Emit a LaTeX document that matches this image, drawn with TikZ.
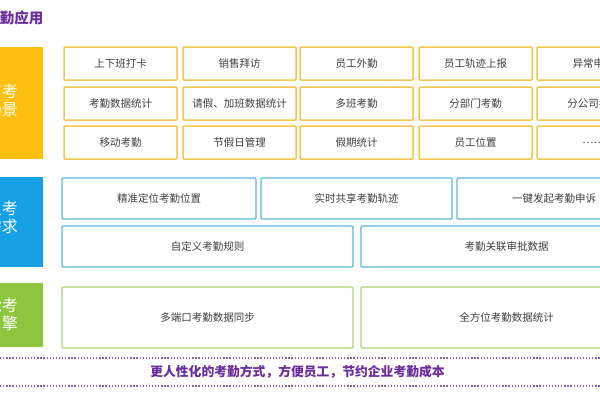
\documentclass[tikz,border=0pt]{standalone}
\usepackage{fontspec}
\setmainfont{Noto Sans CJK SC}
\definecolor{ttl}{HTML}{6A2C9E}
\definecolor{yel}{HTML}{FDBF10}
\definecolor{yelb}{HTML}{F0C850}
\definecolor{blu}{HTML}{15A0E6}
\definecolor{blub}{HTML}{5CB8DF}
\definecolor{grn}{HTML}{8CC63F}
\definecolor{grnb}{HTML}{ACD576}
\definecolor{txt}{HTML}{404040}
\definecolor{dotc}{HTML}{8A63B8}
\tikzset{
  cell/.style={rectangle, rounded corners=1pt, line width=1.3pt, fill=white, text=txt,
    font=\fontsize{10.5}{12}\selectfont, inner sep=0pt},
  ycell/.style={cell, draw=yelb, line width=1.5pt, minimum width=113pt, minimum height=33pt},
  bcell/.style={cell, draw=blub, line width=1.1pt, minimum height=41pt},
  gcell/.style={cell, draw=grnb, line width=1.1pt, minimum height=61pt},
  lab/.style={text=white, font=\fontsize{16}{18}\selectfont, align=right, anchor=east, inner sep=0pt},
  dotline/.style={draw=dotc, line width=1.3pt, dash pattern=on 1.3pt off 1.8pt}
}
\begin{document}
\begin{tikzpicture}[x=1pt,y=-1pt]
\useasboundingbox (0,0) rectangle (600,400);
\clip (0,0) rectangle (600,400);
\fill[white] (0,0) rectangle (600,400);
% title
\node[anchor=east, text=ttl, font=\fontsize{14.5}{16}\selectfont\bfseries, inner sep=0pt] (title) at (43.5,18) {考勤应用};
% left labels
\fill[yel] (-60,47) rectangle (43,159);
\fill[blu] (-60,177) rectangle (43,267);
\fill[grn] (-60,283) rectangle (43,347);
\node[lab] (l1) at (18,100) {丰富考\\勤场景};
\node[lab] (l2) at (18,217) {满足考\\勤需求};
\node[lab] (l3) at (18,314) {智能考\\勤引擎};
% yellow grid
\node[ycell] (y11) at (120.5,63.5) {上下班打卡};
\node[ycell] (y12) at (239.5,63.5) {销售拜访};
\node[ycell] (y13) at (356.5,63.5) {员工外勤};
\node[ycell] (y14) at (475.5,63.5) {员工轨迹上报};
\node[ycell] (y15) at (593.5,63.5) {异常申诉};
\node[ycell] (y21) at (120.5,103.5) {考勤数据统计};
\node[ycell] (y22) at (239.5,103.5) {请假、加班数据统计};
\node[ycell] (y23) at (356.5,103.5) {多班考勤};
\node[ycell] (y24) at (475.5,103.5) {分部门考勤};
\node[ycell] (y25) at (593.5,103.5) {分公司考勤};
\node[ycell] (y31) at (120.5,142.5) {移动考勤};
\node[ycell] (y32) at (239.5,142.5) {节假日管理};
\node[ycell] (y33) at (356.5,142.5) {假期统计};
\node[ycell] (y34) at (475.5,142.5) {员工位置};
\node[ycell] (y35) at (593.5,142.5) {……};
% blue
\node[bcell, minimum width=194pt] (b11) at (159,198.5) {精准定位考勤位置};
\node[bcell, minimum width=191pt] (b12) at (356.5,198.5) {实时共享考勤轨迹};
\node[bcell, minimum width=194pt] (b13) at (554,198.5) {一键发起考勤申诉};
\node[bcell, minimum width=291pt] (b21) at (207.5,246.5) {自定义考勤规则};
\node[bcell, minimum width=291pt] (b22) at (506.5,246.5) {考勤关联审批数据};
% green
\node[gcell, minimum width=291pt] (g1) at (207.5,317.5) {多端口考勤数据同步};
\node[gcell, minimum width=291pt] (g2) at (506.5,317.5) {全方位考勤数据统计};
% dotted lines and slogan
\draw[dotline] (0,358) -- (600,358);
\draw[dotline] (0,386) -- (600,386);
\node[text=ttl, font=\fontsize{12.8}{15}\selectfont\bfseries, inner sep=0pt] (slogan) at (297.5,372) {更人性化的考勤方式，方便员工，节约企业考勤成本};
\end{tikzpicture}
\end{document}
